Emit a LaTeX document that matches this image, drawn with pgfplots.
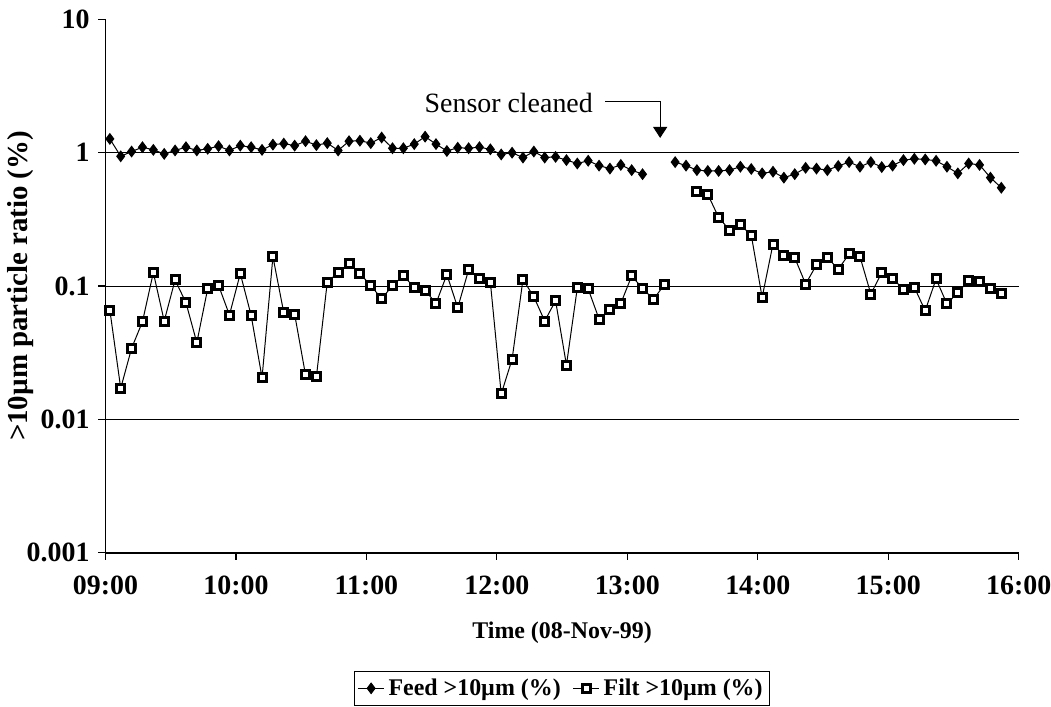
\documentclass[border=0pt]{standalone}
\usepackage{fontspec}
\setmainfont{Liberation Serif}
\usepackage{pgfplots}
\usepackage{pgfplotstable}
\pgfplotsset{compat=1.18}
\usetikzlibrary{arrows.meta}

\pgfplotstableread{
t v
2 1.27
7 0.94
12 1.02
17 1.10
22 1.05
27 0.98
32 1.04
37 1.10
42 1.04
47 1.07
52 1.12
57 1.04
62 1.13
67 1.10
72 1.05
77 1.15
82 1.17
87 1.13
92 1.22
97 1.14
102 1.18
107 1.04
112 1.22
117 1.23
122 1.18
127 1.30
132 1.08
137 1.08
142 1.16
147 1.32
152 1.16
157 1.03
162 1.09
167 1.08
172 1.10
177 1.06
182 0.97
187 1.00
192 0.92
197 1.02
202 0.92
207 0.93
212 0.88
217 0.83
222 0.87
227 0.80
232 0.76
237 0.81
242 0.74
247 0.69
252 nan
262 0.85
267 0.80
272 0.74
277 0.73
282 0.73
287 0.74
292 0.785
297 0.755
302 0.70
307 0.72
312 0.65
317 0.69
322 0.77
327 0.76
332 0.74
337 0.795
342 0.85
347 0.785
352 0.85
357 0.78
362 0.80
367 0.88
372 0.90
377 0.89
382 0.87
387 0.785
392 0.70
397 0.83
402 0.81
407 0.65
412 0.546
}\feed

\pgfplotstableread{
t v
2 0.066
7 0.0171
12 0.0341
17 0.054
22 0.126
27 0.0546
32 0.111
37 0.075
42 0.0376
47 0.0955
52 0.101
57 0.0606
62 0.124
67 0.060
72 0.0205
77 0.166
82 0.063
87 0.0614
92 0.0215
97 0.0209
102 0.107
107 0.126
112 0.147
117 0.124
122 0.101
127 0.080
132 0.101
137 0.119
142 0.098
147 0.093
152 0.074
157 0.122
162 0.0687
167 0.132
172 0.114
177 0.107
182 0.0155
187 0.0282
192 0.112
197 0.083
202 0.0546
207 0.0776
212 0.0255
217 0.097
222 0.095
227 0.0565
232 0.067
237 0.074
242 0.119
247 0.096
252 0.0795
257 0.102
262 nan
272 0.516
277 0.487
282 0.327
287 0.263
292 0.287
297 0.241
302 0.0822
307 0.2066
312 0.169
317 0.163
322 0.1035
327 0.144
332 0.164
337 0.1334
342 0.174
347 0.166
352 0.087
357 0.126
362 0.114
367 0.0944
372 0.0977
377 0.0653
382 0.113
387 0.0733
392 0.0897
397 0.1096
402 0.1076
407 0.096
412 0.088
}\filt

\begin{document}
\begin{tikzpicture}
\useasboundingbox (-52.75bp,-77.2bp) rectangle (472.75bp,276.3bp);
\begin{axis}[
  scale only axis, width=456.6bp, height=266.6bp,
  xmin=0, xmax=420, ymin=0.001, ymax=10, ymode=log,
  axis x line=bottom, axis y line=left,
  axis line style={-, line width=0.9bp, black},
  xtick={0,60,120,180,240,300,360,420},
  xticklabels={09:00,10:00,11:00,12:00,13:00,14:00,15:00,16:00},
  ytick={0.001,0.01,0.1,1,10},
  yticklabels={0.001,0.01,0.1,1,10},
  yminorticks=false, xminorticks=false,
  tick align=outside, major tick length=3.5bp,
  tick style={black, line width=0.6bp},
  extra y ticks={0.01,0.1,1}, extra y tick labels={},
  extra y tick style={grid=major},
  grid style={black, line width=0.5bp},
  /pgf/number format/assume math mode=true,
  ticklabel style={font=\fontsize{14}{14}\selectfont\bfseries},
  xticklabel style={yshift=-4.5bp},
  yticklabel style={xshift=-1bp},
  xlabel={Time (08-Nov-99)},
  xlabel style={font=\fontsize{12}{12}\selectfont\bfseries, at={(axis description cs:0.5,-0.1508)}, anchor=center},
  ylabel={>10µm particle ratio (\%)},
  ylabel style={font=\fontsize{14.5}{14.5}\selectfont\bfseries, at={(axis description cs:-0.0925,0.5)}, anchor=center},
  unbounded coords=jump,
  clip=false,
  legend columns=2,
  legend style={at={(axis description cs:0.5,-0.222)}, anchor=north, draw=black, line width=0.6bp,
    font=\fontsize{12}{12}\selectfont\bfseries, inner sep=1.5bp,
    /tikz/every even column/.append style={column sep=4bp}},
  legend image code/.code={\draw[#1] (0bp,0bp) -- (13bp,0bp); \draw[#1, only marks] plot coordinates {(6.5bp,0bp)};},
]
\addplot[black, line width=0.5bp, mark=diamond*, mark size=2.6bp, mark options={solid, fill=black}] table[x=t,y=v] {\feed};
\addlegendentry{Feed >10µm (\%)}
\addplot[black, line width=0.5bp, mark=square*, mark size=2.0bp, mark options={solid, fill=white, line width=1.5bp}] table[x=t,y=v] {\filt};
\addlegendentry{Filt >10µm (\%)}
\node[anchor=base east, font=\fontsize{14}{14}\selectfont, inner sep=0pt] at (axis cs:224.3,2.02) {Sensor cleaned};
\draw[-{Triangle[length=5.5bp,width=7bp]}, line width=0.6bp] (axis cs:229.8,2.41) -| (axis cs:255.1,1.29);
\end{axis}
\end{tikzpicture}
\end{document}
